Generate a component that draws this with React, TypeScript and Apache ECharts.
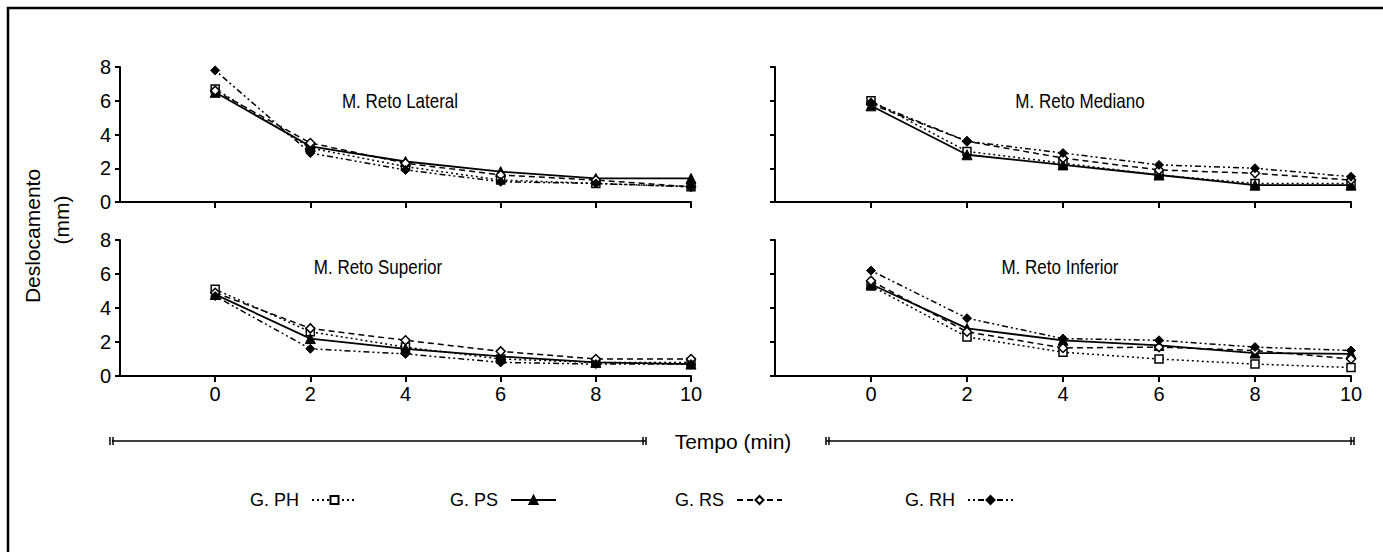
import React, { useEffect, useRef } from "react";
import * as echarts from "echarts";

const times = [0, 2, 4, 6, 8, 10];
const groupNames = ["G. PH", "G. PS", "G. RS", "G. RH"];
const panelTitles = ["M. Reto Lateral", "M. Reto Mediano", "M. Reto Superior", "M. Reto Inferior"];
const xTicks = [0, 2, 4, 6, 8, 10];

// values per panel, per group (PH, PS, RS, RH)
const lateralPH = [6.7, 3.2, 2.1, 1.3, 1.1, 0.9];
const lateralPS = [6.5, 3.3, 2.4, 1.8, 1.4, 1.4];
const lateralRS = [6.6, 3.5, 2.3, 1.6, 1.3, 0.9];
const lateralRH = [7.8, 2.9, 1.9, 1.2, 1.1, 0.9];

const medianoPH = [6.0, 3.0, 2.3, 1.6, 1.1, 1.1];
const medianoPS = [5.7, 2.8, 2.2, 1.6, 1.0, 1.0];
const medianoRS = [5.8, 3.6, 2.6, 1.9, 1.7, 1.3];
const medianoRH = [5.9, 3.6, 2.9, 2.2, 2.0, 1.5];

const superiorPH = [5.1, 2.6, 1.7, 1.0, 0.8, 0.8];
const superiorPS = [4.8, 2.2, 1.6, 1.15, 0.8, 0.7];
const superiorRS = [4.9, 2.8, 2.1, 1.45, 1.0, 1.0];
const superiorRH = [4.7, 1.6, 1.3, 0.8, 0.7, 0.7];

const inferiorPH = [5.3, 2.3, 1.4, 1.0, 0.7, 0.5];
const inferiorPS = [5.4, 2.8, 2.1, 1.8, 1.35, 1.3];
const inferiorRS = [5.6, 2.6, 1.65, 1.7, 1.5, 1.0];
const inferiorRH = [6.2, 3.4, 2.2, 2.1, 1.7, 1.5];

const panels = [
  [lateralPH, lateralPS, lateralRS, lateralRH],
  [medianoPH, medianoPS, medianoRS, medianoRH],
  [superiorPH, superiorPS, superiorRS, superiorRH],
  [inferiorPH, inferiorPS, inferiorRS, inferiorRH],
];

const FONT = "'Liberation Sans', Arial, sans-serif";

const styles: any[] = [
  {
    lineStyle: { color: "#000", width: 1.5, type: [2, 3] },
    symbol: "rect",
    symbolSize: 8,
    itemStyle: { color: "#fff", borderColor: "#000", borderWidth: 1.5 },
  },
  {
    lineStyle: { color: "#000", width: 1.8, type: "solid" },
    symbol: "triangle",
    symbolSize: 10,
    itemStyle: { color: "#000", borderColor: "#000", borderWidth: 1 },
  },
  {
    lineStyle: { color: "#000", width: 1.5, type: [6, 4] },
    symbol: "diamond",
    symbolSize: 9,
    itemStyle: { color: "#fff", borderColor: "#000", borderWidth: 1.5 },
  },
  {
    lineStyle: { color: "#000", width: 1.5, type: [2, 3, 2, 3, 6, 3] },
    symbol: "diamond",
    symbolSize: 9,
    itemStyle: { color: "#000", borderColor: "#000", borderWidth: 1 },
  },
];

const gridBoxes = [
  { left: 120, top: 67, width: 571, height: 135 },
  { left: 775, top: 67, width: 576, height: 135 },
  { left: 120, top: 240, width: 571, height: 136 },
  { left: 775, top: 240, width: 576, height: 136 },
];

const titlePos = [
  [400, 101],
  [1080, 101],
  [378, 267],
  [1060, 267],
];

const legendLeft = [245, 445, 670, 900];

export default function App() {
  const ref = useRef<HTMLDivElement>(null);
  useEffect(() => {
    document.body.style.margin = "0";
    const chart = echarts.init(ref.current!, null, { renderer: "svg" });
    const grid = gridBoxes.map((g) => ({ ...g, containLabel: false }));
    const xAxis = gridBoxes.map((_, i) => ({
      type: "value",
      gridIndex: i,
      min: -2,
      max: 10,
      interval: 2,
      splitLine: { show: false },
      axisLine: { show: true, onZero: false, lineStyle: { color: "#000", width: 2 } },
      axisTick: { show: true, customValues: xTicks, length: 6, lineStyle: { color: "#000", width: 2 } },
      axisLabel: {
        show: i >= 2,
        customValues: xTicks,
        color: "#000",
        fontSize: 20,
        fontFamily: FONT,
        margin: 8,
      },
    }));
    const yAxis = gridBoxes.map((_, i) => ({
      type: "value",
      gridIndex: i,
      min: 0,
      max: 8,
      interval: 2,
      splitLine: { show: false },
      axisLine: { show: true, onZero: false, lineStyle: { color: "#000", width: 2 } },
      axisTick: { show: true, length: 5, lineStyle: { color: "#000", width: 2 } },
      axisLabel: {
        show: i % 2 === 0,
        color: "#000",
        fontSize: 20,
        fontFamily: FONT,
        margin: 9,
      },
    }));
    const series: any[] = [];
    panels.forEach((panel, p) => {
      panel.forEach((vals, g) => {
        series.push({
          type: "line",
          name: groupNames[g],
          xAxisIndex: p,
          yAxisIndex: p,
          data: times.map((t, k) => [t, vals[k]]),
          showSymbol: true,
          z: 3 + g,
          ...styles[g],
        });
      });
    });
    const legend = groupNames.map((n, i) => ({
      data: [n],
      left: legendLeft[i],
      top: 486,
      align: "right",
      itemWidth: 45,
      itemHeight: 10,
      itemGap: 10,
      textStyle: { color: "#000", fontSize: 18, fontFamily: FONT, padding: [0, 8, 0, 0] },
      selectedMode: false,
    }));
    const tempoEnds: any[] = [];
    [110, 646, 826, 1354].forEach((x, k) => {
      const dir = k % 2 === 0 ? 1 : -1;
      [0, 3].forEach((d) =>
        tempoEnds.push({
          type: "line",
          shape: { x1: x + dir * d, y1: 437, x2: x + dir * d, y2: 445 },
          style: { stroke: "#000", lineWidth: 1.5 },
        })
      );
    });
    const graphic: any[] = [
      {
        type: "rect",
        shape: { x: 8, y: 8, width: 1420, height: 620 },
        style: { fill: "none", stroke: "#000", lineWidth: 2.5 },
        silent: true,
      },
      ...panelTitles.map((t, i) => ({
        type: "text",
        x: titlePos[i][0],
        y: titlePos[i][1],
        scaleX: 0.85,
        style: {
          text: t,
          fill: "#000",
          fontSize: 20,
          fontFamily: FONT,
          textAlign: "center",
          textVerticalAlign: "middle",
        },
      })),
      {
        type: "text",
        x: 32,
        y: 236,
        rotation: Math.PI / 2,
        style: {
          text: "Deslocamento",
          fill: "#000",
          fontSize: 21,
          fontFamily: FONT,
          textAlign: "center",
          textVerticalAlign: "middle",
        },
      },
      {
        type: "text",
        x: 61,
        y: 220,
        rotation: Math.PI / 2,
        style: {
          text: "(mm)",
          fill: "#000",
          fontSize: 21,
          fontFamily: FONT,
          textAlign: "center",
          textVerticalAlign: "middle",
        },
      },
      {
        type: "line",
        shape: { x1: 112, y1: 441, x2: 646, y2: 441 },
        style: { stroke: "#000", lineWidth: 1.5 },
      },
      {
        type: "line",
        shape: { x1: 826, y1: 441, x2: 1354, y2: 441 },
        style: { stroke: "#000", lineWidth: 1.5 },
      },
      ...tempoEnds,
      {
        type: "text",
        x: 733,
        y: 441,
        style: {
          text: "Tempo (min)",
          fill: "#000",
          fontSize: 21,
          fontFamily: FONT,
          textAlign: "center",
          textVerticalAlign: "middle",
        },
      },
    ];
    chart.setOption({
      animation: false,
      backgroundColor: "#fff",
      grid,
      xAxis,
      yAxis,
      series,
      legend,
      graphic,
    });
    return () => chart.dispose();
  }, []);
  return <div ref={ref} style={{ width: 1383, height: 552 }} />;
}
